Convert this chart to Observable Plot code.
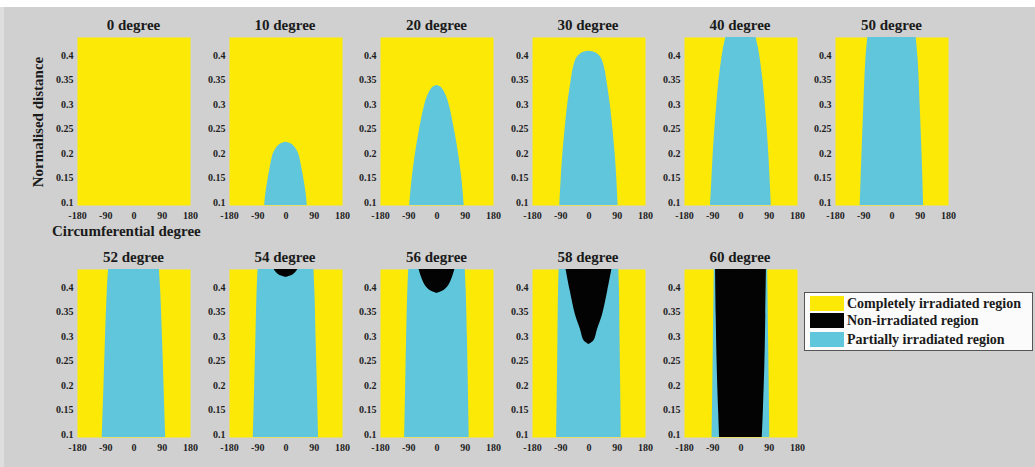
<!DOCTYPE html>
<html><head><meta charset="utf-8">
<script src="https://cdn.jsdelivr.net/npm/d3@7"></script>
<script src="https://cdn.jsdelivr.net/npm/@observablehq/plot@0.6"></script>
<style>
html,body{margin:0;padding:0;background:#fff;}
#root{position:relative;width:1035px;height:467px;background:#d0d0d0;overflow:hidden;font-family:"Liberation Serif",serif;font-weight:bold;color:#1a1a1a;}
.abs{position:absolute;}
.title{font-size:15px;line-height:16px;text-align:center;width:160px;white-space:nowrap;}
.sw{position:absolute;left:5px;width:34px;height:15px;}
.lt{position:absolute;left:42px;font-size:14px;line-height:16px;white-space:nowrap;}
</style></head><body><div id="root"></div>
<script>
// ---- data ----
const titles = ["0 degree","10 degree","20 degree","30 degree","40 degree","50 degree",
                "52 degree","54 degree","56 degree","58 degree","60 degree"];
const xTicks = [-180, -90, 0, 90, 180];
const yTicks = [0.1, 0.15, 0.2, 0.25, 0.3, 0.35, 0.4];
const yTop = 0.443;
const legendLabels = ["Completely irradiated region","Non-irradiated region","Partially irradiated region"];

// partially irradiated (blue) region: height levels and half-width in degrees
const blue10Y = [0.1, 0.125, 0.15, 0.175, 0.2, 0.21, 0.22, 0.226, 0.229];
const blue10W = [68, 64, 58, 51, 43, 37, 27, 16, 0];
const blue20Y = [0.1, 0.15, 0.2, 0.25, 0.3, 0.32, 0.335, 0.342, 0.345];
const blue20W = [87, 80, 70, 57, 41, 32, 21, 12, 0];
const blue30Y = [0.1, 0.15, 0.2, 0.25, 0.3, 0.35, 0.38, 0.4, 0.408, 0.413, 0.415];
const blue30W = [93, 89, 84, 77, 69, 58, 50, 40, 30, 17, 0];
const blue40Y = [0.1, 0.15, 0.2, 0.25, 0.3, 0.35, 0.4, 0.42, 0.443];
const blue40W = [97, 93, 89, 84, 78, 71, 61, 56, 48];
const blue50Y = [0.1, 0.2, 0.3, 0.4, 0.443];
const blue50W = [101, 96, 90, 83, 77];
const blue52Y = [0.1, 0.2, 0.3, 0.4, 0.443];
const blue52W = [101, 96, 91, 85, 81];
const blue54Y = [0.1, 0.2, 0.3, 0.4, 0.443];
const blue54W = [104, 100, 96, 92, 89];
const blue56Y = [0.1, 0.2, 0.3, 0.4, 0.443];
const blue56W = [103, 100, 97, 93, 90];
const blue58Y = [0.1, 0.2, 0.3, 0.4, 0.443];
const blue58W = [103, 101, 99, 97, 95];
const blue60Y = [0.1, 0.2, 0.3, 0.4, 0.443];
const blue60W = [92, 90, 88, 86, 85];

// non-irradiated (black) region
const black54Y = [0.427, 0.432, 0.437, 0.443];
const black54W = [0, 22, 31, 38];
const black56Y = [0.394, 0.4, 0.41, 0.42, 0.43, 0.443];
const black56W = [0, 22, 37, 45, 51, 57];
const black58Y = [0.29, 0.295, 0.3, 0.32, 0.35, 0.4, 0.443];
const black58W = [0, 12, 18, 27, 43, 60, 73];
const black60Y = [0.1, 0.15, 0.25, 0.35, 0.443];
const black60W = [68, 71, 76, 79, 81];

const YELLOW = "#FCEA06", BLUE = "#60C6DB", BLACK = "#030303";

// ---- layout ----
const root = document.getElementById("root");
function add(html, style, cls) {
  const d = document.createElement("div");
  d.className = "abs" + (cls ? " " + cls : "");
  Object.assign(d.style, style);
  d.innerHTML = html;
  root.appendChild(d);
  return d;
}
add("", {left:"0px", top:"0px", width:"1035px", height:"7px", background:"#fff"});
add("", {left:"0px", top:"7px", width:"4px", height:"460px", background:"#dedede"});

const colX = [77, 228.5, 380, 531.5, 683.5, 835];
const rowY = [37, 269];
const PW = 113, PH = 168, ML = 40, MR = 12, MT = 2, MB = 22;

const panels = [
  [null, null, null, null],
  [blue10Y, blue10W, null, null],
  [blue20Y, blue20W, null, null],
  [blue30Y, blue30W, null, null],
  [blue40Y, blue40W, null, null],
  [blue50Y, blue50W, null, null],
  [blue52Y, blue52W, null, null],
  [blue54Y, blue54W, black54Y, black54W],
  [blue56Y, blue56W, black56Y, black56W],
  [blue58Y, blue58W, black58Y, black58W],
  [blue60Y, blue60W, black60Y, black60W]
];

const rows = (ys, ws) => ys.map((y, i) => ({y, w: ws[i]}));

panels.forEach(([by, bw, ky, kw], i) => {
  const row = i < 6 ? 0 : 1;
  const col = i < 6 ? i : i - 6;
  const x0 = colX[col], y0 = rowY[row];
  const marks = [Plot.frame({fill: YELLOW, stroke: "none"})];
  if (by) marks.push(Plot.areaX(rows(by, bw), {y: "y", x1: d => -d.w, x2: d => d.w, fill: BLUE, curve: "catmull-rom", clip: true}));
  if (ky) marks.push(Plot.areaX(rows(ky, kw), {y: "y", x1: d => -d.w, x2: d => d.w, fill: BLACK, curve: "catmull-rom", clip: true}));
  marks.push(Plot.axisY(yTicks, {tickSize: 0, tickPadding: 4, dy: -3, label: null, tickFormat: d => String(d)}));
  marks.push(Plot.axisX(xTicks, {tickSize: 0, tickPadding: 6, label: null, tickFormat: d => String(d)}));
  const svg = Plot.plot({
    width: PW + ML + MR, height: PH + MT + MB,
    marginLeft: ML, marginRight: MR, marginTop: MT, marginBottom: MB,
    x: {domain: [-180, 180]},
    y: {domain: [0.1, yTop]},
    style: {background: "transparent", fontFamily: "Liberation Serif", fontSize: "10px", fontWeight: "bold", color: "#1e1e1e", overflow: "visible"},
    marks
  });
  svg.style.position = "absolute";
  svg.style.left = (x0 - ML) + "px";
  svg.style.top = (y0 - MT) + "px";
  root.appendChild(svg);
  add(titles[i], {left: (x0 + PW / 2 - 80) + "px", top: (row === 0 ? 17 : 249) + "px"}, "title");
});

// axis titles
add("Normalised distance", {left: "38px", top: "122px", fontSize: "15px", whiteSpace: "nowrap", transform: "translate(-50%,-50%) rotate(-90deg)"});
add("Circumferential degree", {left: "52px", top: "223px", fontSize: "15px", whiteSpace: "nowrap"});

// legend
const lg = add("", {left: "804px", top: "292px", width: "227px", height: "57px", border: "1px solid #555", background: "#fbfbfb"});
const swCols = [YELLOW, BLACK, BLUE];
const swTops = [3, 20, 39];
legendLabels.forEach((t, i) => {
  const s = document.createElement("div"); s.className = "sw";
  s.style.top = swTops[i] + "px"; s.style.background = swCols[i]; lg.appendChild(s);
  const l = document.createElement("div"); l.className = "lt";
  l.style.top = (swTops[i] - 0.5) + "px"; l.textContent = t; lg.appendChild(l);
});
</script></body></html>
